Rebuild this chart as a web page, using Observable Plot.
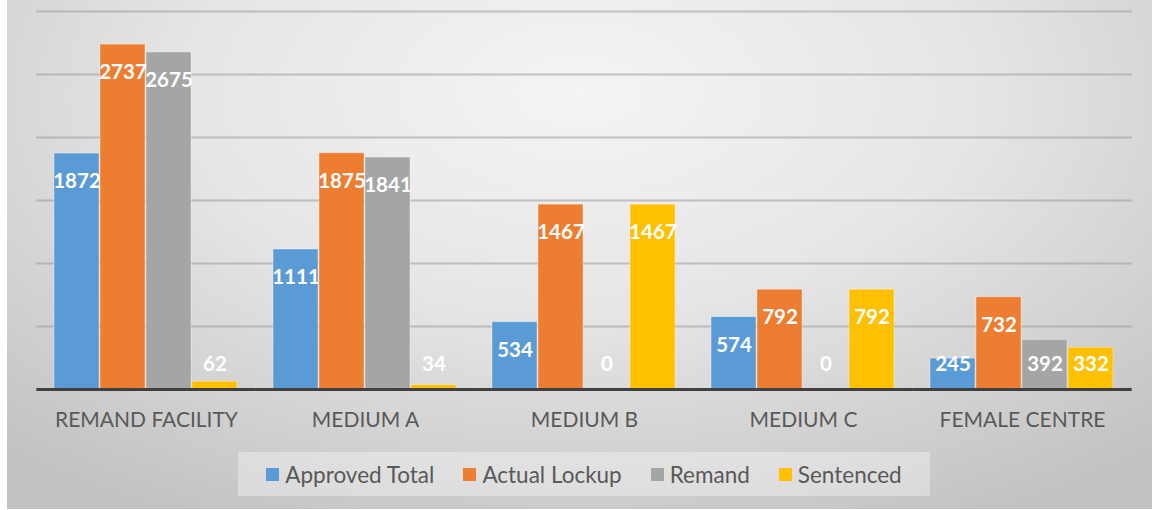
<!DOCTYPE html>
<html>
<head>
<meta charset="utf-8">
<script src="https://cdn.jsdelivr.net/npm/d3@7"></script>
<script src="https://cdn.jsdelivr.net/npm/@observablehq/plot@0.6"></script>
<style>
  html, body { margin: 0; padding: 0; background: #fff; }
  #wrap { position: relative; width: 1152px; height: 510px; background: #fff; overflow: hidden; font-family: Lato, "Open Sans", sans-serif; }
  #bg { position: absolute; left: 7px; top: 0; width: 1145px; height: 509px;
        background: radial-gradient(ellipse 75% 95% at 50% 18%, #f4f4f4 0%, #e6e6e6 45%, #cfcfcf 80%, #c2c2c2 100%); }
  #plot { position: absolute; left: 0; top: 0; }
  #legend { position: absolute; left: 238px; top: 452px; width: 692px; height: 44px;
            background: rgba(255,255,255,0.35); display: flex; align-items: center; justify-content: center; gap: 29px;
            font-size: 22.5px; color: #595959; }
  .item { display: flex; align-items: center; gap: 6px; }
  .sw { width: 13px; height: 13px; display: inline-block; }
</style>
</head>
<body>
<div id="wrap">
  <div id="bg"></div>
  <div id="plot"></div>
  <div id="legend"></div>
</div>
<script>
const categories = ["REMAND FACILITY", "MEDIUM A", "MEDIUM B", "MEDIUM C", "FEMALE CENTRE"];
const seriesNames = ["Approved Total", "Actual Lockup", "Remand", "Sentenced"];
const approvedTotal = [1872, 1111, 534, 574, 245];
const actualLockup = [2737, 1875, 1467, 792, 732];
const remand = [2675, 1841, 0, 0, 392];
const sentenced = [62, 34, 1467, 792, 332];
const colors = ["#5B9BD5", "#ED7D31", "#A5A5A5", "#FFC000"];
const yTicks = [0, 500, 1000, 1500, 2000, 2500, 3000];

const seriesValues = [approvedTotal, actualLockup, remand, sentenced];
const data = [];
categories.forEach((c, i) => {
  seriesNames.forEach((s, j) => {
    data.push({category: c, series: s, value: seriesValues[j][i]});
  });
});

const ext = -15.7;
const chart = Plot.plot({
  width: 1152,
  height: 440,
  marginLeft: 37,
  marginRight: 20,
  marginTop: 11,
  marginBottom: 51,
  style: {background: "transparent", fontFamily: "Lato, 'Open Sans', sans-serif", overflow: "visible"},
  fx: {domain: categories, paddingInner: 0.14, paddingOuter: 0.07, label: null, axis: null},
  x: {domain: seriesNames, padding: 0.02, axis: null},
  y: {domain: [0, 3000], axis: null},
  color: {domain: seriesNames, range: colors},
  marks: [
    Plot.ruleY(yTicks.filter(d => d > 0), {stroke: "#9a9a9a", strokeOpacity: 0.55, strokeWidth: 2, insetLeft: ext, insetRight: ext}),
    Plot.barY(data, {fx: "category", x: "series", y: "value", fill: "series", stroke: "#ffffff", strokeOpacity: 0.35, strokeWidth: 1}),
    Plot.text(data, {fx: "category", x: "series", y: d => Math.max(d.value, 420), dy: 28, text: d => String(d.value),
      fill: "white", fontWeight: "bold", fontSize: 20.5}),
    Plot.ruleY([0], {stroke: "#404040", strokeWidth: 3, insetLeft: ext, insetRight: ext}),
    Plot.axisFx({anchor: "bottom", tickSize: 0, tickPadding: 23, fontSize: 21, color: "#595959", label: null})
  ]
});
document.getElementById("plot").appendChild(chart);

const legend = document.getElementById("legend");
seriesNames.forEach((s, i) => {
  const it = document.createElement("div");
  it.className = "item";
  const sw = document.createElement("span");
  sw.className = "sw";
  sw.style.background = colors[i];
  const t = document.createElement("span");
  t.textContent = s;
  it.appendChild(sw);
  it.appendChild(t);
  legend.appendChild(it);
});
</script>
</body>
</html>
